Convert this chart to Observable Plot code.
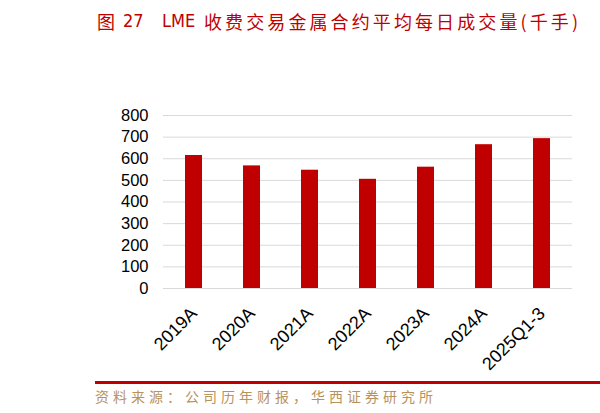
<!DOCTYPE html>
<html>
<head>
<meta charset="utf-8">
<script src="https://cdn.jsdelivr.net/npm/d3@7"></script>
<script src="https://cdn.jsdelivr.net/npm/@observablehq/plot@0.6"></script>
<style>
  html, body { margin: 0; padding: 0; background: #fff; }
  #wrap { position: relative; width: 600px; height: 413px; overflow: hidden; background: #fff; }
  .t { position: absolute; top: 8px; font-family: "Noto Sans CJK SC", sans-serif; font-size: 18px; color: #c00000; white-space: nowrap; line-height: 26px; }
  .lat { font-family: "Liberation Sans Narrow", "DejaVu Sans Condensed", "Liberation Sans", sans-serif; font-size: 18px; }
  #chart { position: absolute; left: 0; top: 100px; }
  #rule { position: absolute; left: 95px; top: 381px; width: 505px; height: 3px; background: #c00000; }
  #source { position: absolute; left: 95px; top: 385px; font-family: "Noto Sans CJK SC", sans-serif; font-size: 14px; letter-spacing: 4px; color: #b8925a; white-space: nowrap; line-height: 22px; }
</style>
</head>
<body>
<div id="wrap">
  <div class="t" style="left:97px">图</div>
  <div class="t lat" style="left:123px">27</div>
  <div class="t lat" style="left:162px">LME</div>
  <div class="t" style="left:204px; letter-spacing:3.1px">收费交易金属合约平均每日成交量(千手)</div>
  <div id="chart"></div>
  <div id="rule"></div>
  <div id="source">资料来源：公司历年财报，华西证券研究所</div>
</div>
<script>
const categories = ["2019A", "2020A", "2021A", "2022A", "2023A", "2024A", "2025Q1-3"];
const values = [615, 567, 547, 505, 561, 665, 693];
const yTicks = [0, 100, 200, 300, 400, 500, 600, 700, 800];

const data = categories.map((c, i) => ({category: c, value: values[i]}));

const chart = Plot.plot({
  width: 600,
  height: 278,
  marginLeft: 163,
  marginRight: 28,
  marginTop: 15,
  marginBottom: 90,
  style: {fontFamily: "'Liberation Sans', Arial, sans-serif", fontSize: "16.5px", color: "#000", background: "transparent"},
  x: {domain: categories, paddingInner: 0.71, paddingOuter: 0.355, label: null},
  y: {domain: [0, 800], label: null},
  marks: [
    Plot.gridY(yTicks, {stroke: "#d9d9d9", strokeOpacity: 1, strokeWidth: 1}),
    Plot.barY(data, {x: "category", y: "value", fill: "#c00000"}),
    Plot.axisY(yTicks, {tickSize: 0, tickPadding: 15, fontSize: 16.5, label: null}),
    Plot.axisX({tickSize: 0, tickPadding: 22, tickRotate: -45, fontSize: 18, label: null, dx: 0})
  ]
});
document.getElementById("chart").appendChild(chart);
</script>
</body>
</html>
